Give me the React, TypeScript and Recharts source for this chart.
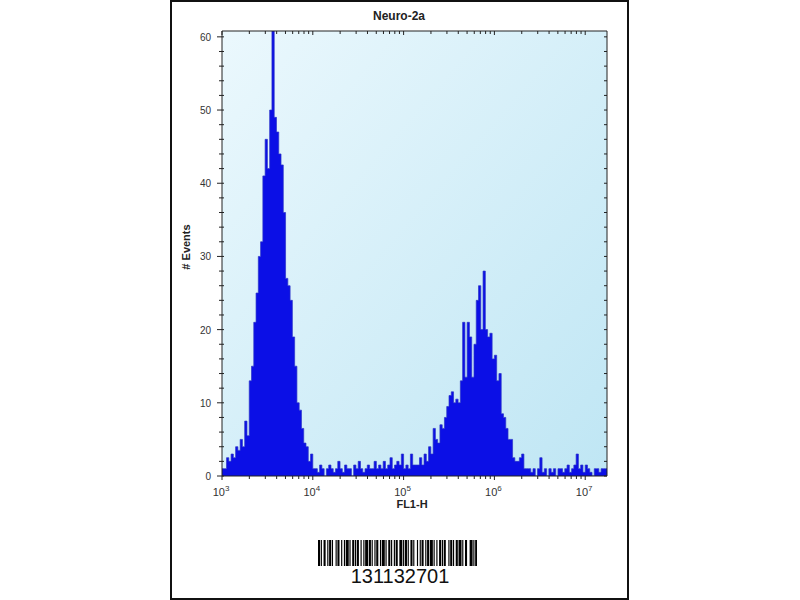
import React from "react";
import {
  ComposedChart,
  Area,
  XAxis,
  YAxis,
  CartesianGrid,
  ReferenceLine,
} from "recharts";

// histogram channels: first edge at 10^3, each channel 0.025 decade wide
const BIN_START = 3;
const BIN_WIDTH = 0.025;

// event counts per channel
const lowPeak = [
  1, 1, 2.5, 2, 3, 2.5, 4, 3.5, 5, 4, 7.5, 5.5, 13, 15, 21, 25, 30, 32, 41, 46,
  42, 50, 61, 49, 47, 44, 42.5, 36, 27, 26, 24, 19, 15, 10, 9, 6.5, 4.5, 4, 2, 3,
];
const valley = [
  1, 1, 0.5, 1.5, 1, 0, 1, 1.5, 1, 0.5, 1, 2, 1, 0.5, 1.5, 1, 1, 0, 1.5, 1, 2,
  1, 0.5, 1, 1.5, 1, 1, 2, 1, 1.5, 1, 2, 1, 1.5, 2.5, 1, 1.5, 2,
];
const highPeak = [
  1.5, 3, 1, 1.5, 1, 3, 1.5, 1.5, 1.5, 2.5, 1.5, 3, 2, 4, 3, 6.5, 5, 4.5, 7, 6.5,
  8, 9.5, 11, 11.5, 10, 10.5, 10, 13, 21, 13.5, 21, 19, 13.5, 18, 24, 26, 20, 28, 20, 19,
  19.5, 16, 16.5, 13, 14, 8.5, 8, 6.5, 5, 5, 2.5, 2, 2, 2.5, 3, 1, 1,
];
const tail = [
  1, 0.5, 1, 0, 1, 2.5, 0.5, 1, 0, 1, 0.5, 1, 0, 1, 1, 0.5, 1, 1.5, 0.5, 1,
  1.5, 3, 1, 1.5, 0.5, 1.5, 1, 0.5, 0, 1, 1, 0.5, 1, 1, 1,
];

const xMajorExps = [3, 4, 5, 6, 7];
const xMinorMultipliers = [2, 3, 4, 5, 6, 7, 8, 9];
const yMajorTicks = [0, 10, 20, 30, 40, 50, 60];
const yMinorStep = 2;

const X_DOMAIN: [number, number] = [3, 7.24];
const Y_DOMAIN: [number, number] = [0, 60.8];

const counts = [...lowPeak, ...valley, ...highPeak, ...tail];
const data = counts.map((c, i) => ({ x: BIN_START + i * BIN_WIDTH, count: c }));
data.push({ x: BIN_START + counts.length * BIN_WIDTH, count: counts[counts.length - 1] });

const xTicks: number[] = [];
xMajorExps.forEach((e) => {
  xTicks.push(e);
  xMinorMultipliers.forEach((m) => {
    const v = e + Math.log10(m);
    if (v <= X_DOMAIN[1]) xTicks.push(v);
  });
});
const yTicks: number[] = [];
for (let v = 0; v <= 60; v += yMinorStep) yTicks.push(v);

const PLOT_LEFT = 222;
const PLOT_RIGHT = 607;
const PLOT_TOP = 31;
const PLOT_BOTTOM = 476;
const FONT = "Arial, 'Liberation Sans', sans-serif";

const XTick = (props: any) => {
  const { x, payload } = props;
  const v = payload.value;
  const major = Math.abs(v - Math.round(v)) < 1e-9;
  const len = major ? 4 : 3;
  return (
    <g>
      <line x1={x} x2={x} y1={PLOT_BOTTOM} y2={PLOT_BOTTOM + len} stroke="#222" />
      <line x1={x} x2={x} y1={PLOT_TOP} y2={PLOT_TOP + len} stroke="#222" />
      {major && (
        <text x={x - 1} y={496} textAnchor="middle" fontFamily={FONT} fontSize={11} fill="#333">
          10
          <tspan dy={-5} fontSize={8}>
            {Math.round(v)}
          </tspan>
        </text>
      )}
    </g>
  );
};

const YTick = (props: any) => {
  const { y, payload } = props;
  const v = payload.value;
  const major = yMajorTicks.includes(v);
  return (
    <g>
      <line x1={PLOT_LEFT - (major ? 5 : 3)} x2={PLOT_LEFT + 2} y1={y} y2={y} stroke="#222" />
      <line x1={PLOT_RIGHT - 3} x2={PLOT_RIGHT} y1={y} y2={y} stroke="#222" />
      {major && (
        <text x={211} y={y + 4} textAnchor="end" fontFamily={FONT} fontSize={10} fill="#333">
          {v}
        </text>
      )}
    </g>
  );
};

// barcode module widths, alternating bar / space
const barcodeModules = [
  2, 1, 1, 2, 2, 2, 1, 1, 2, 1, 1, 3, 1, 1, 2, 2, 1, 2, 1, 1, 3, 1, 1, 2, 2, 1, 1, 1,
  2, 2, 1, 2, 1, 1, 3, 1, 2, 1, 1, 2, 1, 1, 2, 2, 1, 1, 3, 1, 1, 2, 2, 1, 1, 2, 1, 1,
  2, 2, 3, 1, 1, 1, 2, 1, 1, 2, 2, 1, 1, 3, 1, 2, 1, 1, 2, 2, 1, 1, 2, 1, 3, 1, 1, 2,
  1, 2, 2, 1, 1, 1, 2, 3, 1, 1, 2, 1, 1, 2, 2, 1, 3, 1, 1, 2, 2, 3, 3, 1, 1, 1, 2,
];
const barcodeText = "131132701";

function Barcode() {
  const total = barcodeModules.reduce((a, b) => a + b, 0);
  let pos = 0;
  const rects: React.ReactNode[] = [];
  barcodeModules.forEach((w, i) => {
    if (i % 2 === 0) rects.push(<rect key={i} x={pos} y={0} width={w + 0.25} height={10} fill="#000" />);
    pos += w;
  });
  return (
    <svg
      width={159}
      height={26}
      viewBox={`0 0 ${total} 10`}
      preserveAspectRatio="none"
      style={{ position: "absolute", left: 318, top: 540 }}
    >
      {rects}
    </svg>
  );
}

export default function App() {
  return (
    <div style={{ position: "absolute", left: 0, top: 0, width: 800, height: 600, background: "#fff", fontFamily: FONT }}>
      <div
        style={{
          position: "absolute",
          left: 170,
          top: 0,
          width: 459,
          height: 600,
          border: "2px solid #111",
          boxSizing: "border-box",
        }}
      />
      <div
        style={{
          position: "absolute",
          left: 299,
          width: 200,
          top: 9,
          textAlign: "center",
          fontSize: 12,
          fontWeight: "bold",
          color: "#222",
        }}
      >
        Neuro-2a
      </div>
      <div
        style={{
          position: "absolute",
          left: 186 - 40,
          top: 248 - 7,
          width: 80,
          textAlign: "center",
          fontSize: 11,
          fontWeight: "bold",
          color: "#222",
          transform: "rotate(-90deg)",
        }}
      >
        # Events
      </div>
      <div
        style={{
          position: "absolute",
          left: 372,
          width: 80,
          top: 498,
          textAlign: "center",
          fontSize: 11,
          fontWeight: "bold",
          color: "#222",
        }}
      >
        FL1-H
      </div>
      <div style={{ position: "absolute", left: 0, top: 0 }}>
        <ComposedChart
          width={800}
          height={600}
          data={data}
          margin={{ top: PLOT_TOP, right: 800 - PLOT_RIGHT, bottom: 94, left: 192 }}
        >
          <defs>
            <linearGradient id="bgGrad" x1="0" y1="0" x2="1" y2="1">
              <stop offset="0%" stopColor="#ebf8fd" />
              <stop offset="100%" stopColor="#bfe6f4" />
            </linearGradient>
          </defs>
          <CartesianGrid fill="url(#bgGrad)" horizontal={false} vertical={false} stroke="none" />
          <XAxis
            dataKey="x"
            type="number"
            domain={X_DOMAIN}
            allowDataOverflow
            ticks={xTicks}
            interval={0}
            tick={<XTick />}
            tickLine={false}
            axisLine={{ stroke: "#222" }}
            height={30}
          />
          <YAxis
            type="number"
            domain={Y_DOMAIN}
            allowDataOverflow
            ticks={yTicks}
            interval={0}
            tick={<YTick />}
            tickLine={false}
            axisLine={{ stroke: "#222" }}
            width={30}
          />
          <Area
            type="stepAfter"
            dataKey="count"
            baseValue={0}
            fill="#0b0fe6"
            fillOpacity={1}
            stroke="#2b33c8"
            strokeWidth={0.7}
            dot={false}
            activeDot={false}
            isAnimationActive={false}
          />
          <ReferenceLine y={Y_DOMAIN[1]} stroke="#222" ifOverflow="extendDomain" />
          <ReferenceLine x={X_DOMAIN[1]} stroke="#222" ifOverflow="extendDomain" />
        </ComposedChart>
      </div>
      <Barcode />
      <div
        style={{
          position: "absolute",
          left: 300,
          width: 200,
          top: 565,
          textAlign: "center",
          fontSize: 20,
          color: "#111",
          lineHeight: "22px",
        }}
      >
        {barcodeText}
      </div>
    </div>
  );
}
